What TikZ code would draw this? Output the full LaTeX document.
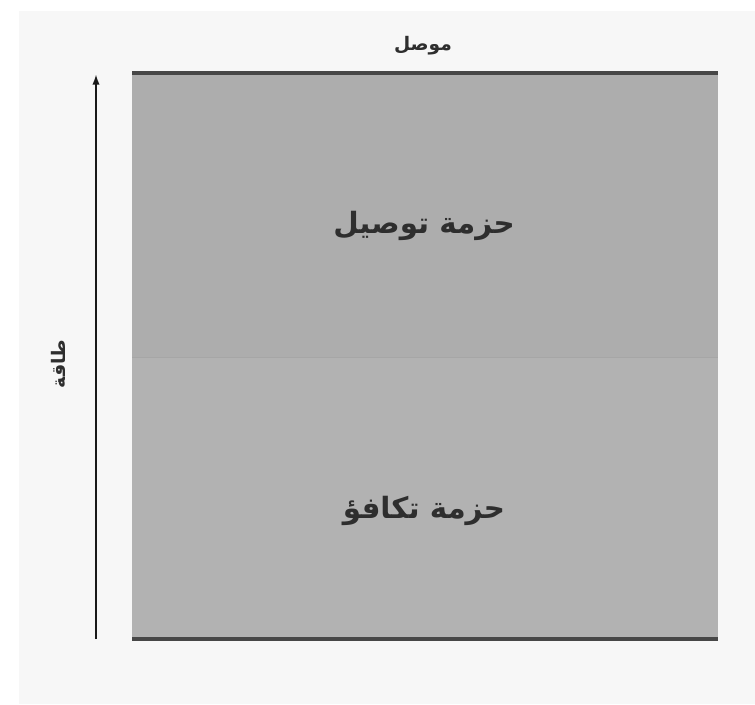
\documentclass[tikz,border=0pt]{standalone}
\usepackage{fontspec}
\newfontfamily\arabicfont[Script=Arabic]{DejaVu Sans}
\TeXXeTstate=1
\usetikzlibrary{arrows.meta,positioning}

\begin{document}
\begin{tikzpicture}[x=0.75pt,y=-0.75pt,>={Latex[length=8pt,width=5.5pt]},
  bandlbl/.style={font=\arabicfont\bfseries\fontsize{22}{26}\selectfont,text=black!82,inner sep=2pt},
  axislbl/.style={font=\arabicfont\bfseries\fontsize{14}{17}\selectfont,text=black!82,inner sep=2pt},
  edge/.style={draw=black!72,line width=2.8pt},
  arr/.style={->,line width=1.5pt,black!90}]
\useasboundingbox (0,0) rectangle (755,704);
\fill[white] (0,0) rectangle (755,704);
\fill[black!3] (19,11) rectangle (755,704);
% bands
\fill[black!32] (132,73) rectangle (718,357);
\fill[black!30] (132,357) rectangle (718,639);
\draw[black!35,line width=0.4pt] (132,357) -- (718,357);
\draw[edge] (132,73) -- (718,73);
\draw[edge] (132,639) -- (718,639);
\node[bandlbl] (cb) at (424,226) {\beginR حزمة توصيل\endR};
\node[bandlbl] (vb) at (424,511) {\beginR حزمة تكافؤ\endR};
\node[axislbl] (metal) at (423,46) {\beginR موصل\endR};
% energy axis
\coordinate (elo) at (96,639);
\coordinate (ehi) at (96,74);
\draw[arr] (elo) -- (ehi);
\node[axislbl,rotate=90] (energy) at (58,364) {\beginR طاقة\endR};
\end{tikzpicture}
\end{document}
